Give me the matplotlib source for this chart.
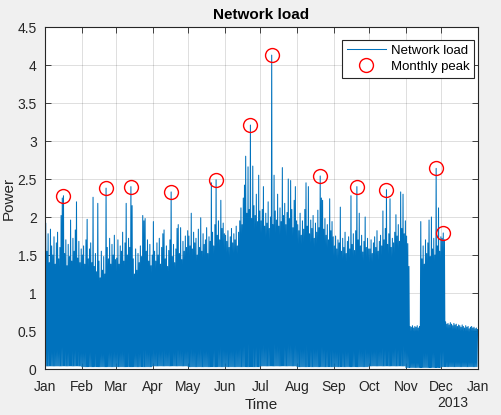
import numpy as np
import matplotlib.pyplot as plt

# daily peak of the network load, read per month (2012)
jan = [1.92, 1.55, 1.78, 1.40, 1.84, 1.62, 1.50, 1.74, 1.38, 1.66, 1.80, 1.45, 1.60, 2.02, 2.25, 2.28,
       1.52, 1.70, 1.36, 1.64, 1.48, 1.96, 1.42, 1.72, 1.55, 1.83, 2.20, 1.46, 1.68, 1.40, 1.58]
feb = [1.50, 1.62, 1.38, 1.70, 1.97, 1.45, 1.58, 1.66, 1.40, 2.26, 1.35, 1.52, 1.28, 2.18, 1.42,
       1.20, 1.55, 1.30, 1.48, 1.25, 2.38, 1.60, 1.45, 1.72, 1.38, 1.64, 1.50, 1.76, 1.44]
mar = [1.46, 1.70, 1.38, 1.62, 1.55, 1.80, 1.42, 1.66, 2.18, 1.50, 1.72, 1.60, 2.40, 2.15, 1.45,
       1.25, 1.58, 1.30, 1.52, 1.40, 1.62, 1.48, 2.02, 1.95, 1.98, 1.55, 1.70, 1.42, 1.64, 1.36, 1.50]
apr = [1.94, 1.55, 1.42, 1.66, 1.50, 1.72, 1.38, 1.60, 1.78, 1.83, 1.45, 1.62, 1.35, 1.56, 1.70,
       2.33, 1.48, 1.64, 1.40, 1.58, 1.85, 1.90, 1.52, 1.86, 1.44, 1.68, 1.55, 1.75, 1.60, 1.82]
may = [1.75, 1.62, 2.05, 1.58, 1.80, 1.66, 1.72, 1.50, 1.84, 1.60, 1.99, 1.55, 1.78, 1.64, 1.70,
       1.86, 1.52, 1.74, 1.68, 2.45, 1.80, 1.62, 1.90, 2.49, 1.76, 1.95, 1.70, 2.22, 1.85, 1.92, 1.78]
jun = [1.76, 1.68, 1.82, 1.60, 1.74, 1.85, 1.66, 1.78, 1.70, 1.88, 1.62, 1.80, 1.95, 2.12, 1.90,
       2.25, 2.42, 2.80, 2.05, 2.66, 2.10, 3.21, 1.98, 2.67, 2.15, 2.02, 2.30, 1.94, 2.55, 2.08]
jul = [1.95, 2.10, 2.40, 1.88, 2.05, 1.92, 2.20, 1.85, 2.00, 4.13, 1.90, 2.55, 2.08, 1.96, 2.30,
       1.88, 2.12, 1.94, 2.65, 2.02, 2.18, 1.90, 2.06, 2.50, 1.98, 2.48, 2.10, 1.86, 2.22, 2.40, 1.95]
aug = [1.90, 1.82, 2.05, 1.76, 1.95, 1.84, 2.10, 2.45, 1.88, 2.40, 1.78, 1.96, 1.85, 2.02, 1.72,
       1.92, 1.80, 2.09, 1.86, 2.54, 2.25, 2.22, 1.84, 1.98, 1.76, 1.90, 1.70, 2.24, 1.82, 1.94, 1.74]
sep = [1.62, 1.75, 1.58, 1.70, 1.66, 2.13, 1.55, 1.72, 1.60, 1.80, 1.52, 1.68, 1.74, 1.58, 2.28,
       1.64, 1.78, 1.56, 1.82, 2.40, 1.70, 2.05, 1.62, 1.76, 1.54, 1.68, 2.00, 1.60, 1.72, 1.58]
oct = [1.58, 1.70, 1.52, 1.66, 1.74, 1.60, 1.82, 1.55, 1.68, 1.76, 1.62, 2.08, 1.70, 1.85, 2.36,
       1.64, 1.78, 2.24, 1.60, 1.72, 1.66, 1.80, 2.03, 1.75, 1.90, 1.68, 2.33, 1.85, 2.30, 1.78, 1.95]
nov = [1.75, 1.65, 1.35, 0.56, 0.55, 0.57, 0.54, 0.56, 0.55, 0.57, 0.54, 0.56, 1.94, 1.45, 1.62,
       1.38, 1.70, 1.52, 1.66, 1.96, 1.48, 2.00, 1.58, 1.72, 1.50, 2.64, 1.62, 2.12, 1.55, 1.74]
dec = [1.72, 1.79, 1.70, 0.62, 0.59, 0.60, 0.58, 0.61, 0.59, 0.57, 0.60, 0.58, 0.59, 0.56, 0.58,
       0.57, 0.55, 0.58, 0.56, 0.54, 0.57, 0.55, 0.56, 0.53, 0.55, 0.56, 0.54, 0.55, 0.53, 0.54, 0.52]

# night-time minimum per month
monthly_low = [0.04, 0.03, 0.03, 0.04, 0.03, 0.03, 0.04, 0.03, 0.03, 0.04, 0.02, 0.03]

month_names = ["Jan", "Feb", "Mar", "Apr", "May", "Jun", "Jul", "Aug", "Sep", "Oct", "Nov", "Dec"]
y_ticks = [0, 0.5, 1, 1.5, 2, 2.5, 3, 3.5, 4, 4.5]
y_labels = ["0", "0.5", "1", "1.5", "2", "2.5", "3", "3.5", "4", "4.5"]

months = [jan, feb, mar, apr, may, jun, jul, aug, sep, oct, nov, dec]
lengths = [len(m) for m in months]
peak = np.concatenate(months)
low = np.repeat(monthly_low, lengths)
days = np.arange("2012-01-01", "2013-01-01", dtype="datetime64[D]").astype("datetime64[h]")

t = np.empty(2 * len(days), dtype="datetime64[h]")
v = np.empty(2 * len(days))
t[0::2] = days + np.timedelta64(3, "h")
t[1::2] = days + np.timedelta64(15, "h")
v[0::2] = low
v[1::2] = peak

# monthly peaks
starts = np.cumsum([0] + lengths[:-1])
pk_idx = [s + int(np.argmax(m)) for s, m in zip(starts, months)]
pk_t = t[1::2][pk_idx]
pk_v = peak[pk_idx]

plt.rcParams['font.family'] = ['Liberation Sans', 'DejaVu Sans']
fig = plt.figure(figsize=(5.01, 4.15), dpi=100, facecolor="#f0f0f0")
ax = fig.add_axes([0.0898, 0.1108, 0.8643, 0.8241])

ax.plot(t, v, color="#0072bd", lw=0.75, label="Network load")
ax.plot(pk_t, pk_v, "o", ms=10, mfc="none", mec="red", mew=1, label="Monthly peak")

tick_dates = np.arange("2012-01", "2013-02", dtype="datetime64[M]").astype("datetime64[D]")
ax.set_xticks(tick_dates)
ax.set_xticklabels(month_names + ["Jan"])
ax.set_xlim(np.datetime64("2012-01-01"), np.datetime64("2013-01-01"))
ax.set_ylim(0, 4.5)
ax.set_yticks(y_ticks)
ax.set_yticklabels(y_labels)

ax.grid(True, color="black", alpha=0.15, lw=0.6)
ax.set_axisbelow(True)
ax.tick_params(direction="in", length=4, width=0.6, top=True, right=True,
               labelsize=10, colors="#262626")
ax.tick_params(axis="x", pad=8)
ax.tick_params(axis="y", pad=6)
for s in ax.spines.values():
    s.set_color("#262626")
    s.set_linewidth(0.8)

ax.set_title("Network load", fontsize=11, fontweight="bold", pad=6)
ax.set_xlabel("Time", fontsize=11, color="#262626")
ax.set_ylabel("Power", fontsize=11, color="#262626")
ax.xaxis.set_label_coords(0.5, -0.085)
ax.yaxis.set_label_coords(-0.068, 0.5)
ax.text(0.942, -0.1, "2013", transform=ax.transAxes, ha="center", va="center",
        fontsize=10, color="#262626")

leg = ax.legend(loc="upper right", bbox_to_anchor=(0.991, 0.962), borderaxespad=0,
                fontsize=9.5, fancybox=False, framealpha=1, edgecolor="#262626",
                borderpad=0.35, labelspacing=0.3, handlelength=3.0, handletextpad=0.35)
leg.get_frame().set_linewidth(0.8)

fig.savefig("out.png", dpi=100, facecolor=fig.get_facecolor())
